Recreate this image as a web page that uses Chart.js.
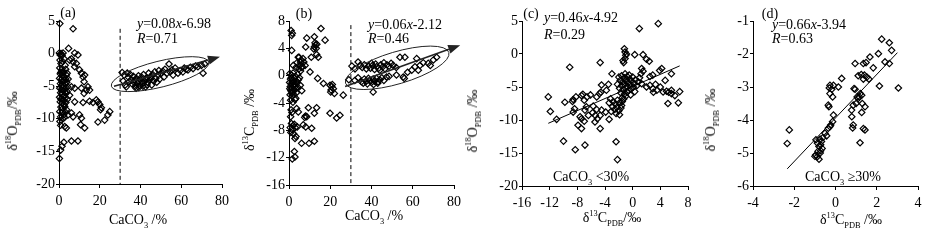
<!DOCTYPE html>
<html>
<head>
<meta charset="utf-8">
<script src="https://cdn.jsdelivr.net/npm/chart.js@4.4.1/dist/chart.umd.min.js"></script>
<style>
  body { margin: 0; width: 932px; height: 241px; position: relative; background: #fff; overflow: hidden;
         font-family: "Liberation Serif", "Times New Roman", serif; color: #000; }
  canvas { position: absolute; top: 0; }
  .t { position: absolute; font-size: 14px; line-height: 1; white-space: nowrap; transform: translate(-50%, -50%); }
  .l { position: absolute; font-size: 14px; line-height: 1; white-space: nowrap; transform: translateY(-50%); }
  .r { transform: translate(-50%, -50%) rotate(-90deg); }
  sub, sup { font-size: 60%; line-height: 0; }
  i { font-style: italic; }
</style>
</head>
<body>
<canvas id="pa" width="240" height="241" style="left:0px"></canvas>
<canvas id="pb" width="240" height="241" style="left:232px"></canvas>
<canvas id="pc" width="234" height="241" style="left:466px"></canvas>
<canvas id="pd" width="232" height="241" style="left:700px"></canvas>

<div class="t" style="left:68px;top:13px">(a)</div>
<div class="l" style="left:137px;top:24px"><i>y</i>=0.08<i>x</i>-6.98</div>
<div class="l" style="left:137px;top:39px"><i>R</i>=0.71</div>
<div class="t" style="left:138px;top:220px">CaCO<sub>3</sub> /%</div>
<div class="t r" style="left:13px;top:121px">δ<sup>18</sup>O<sub>PDB</sub>/‰</div>

<div class="t" style="left:304px;top:14px">(b)</div>
<div class="l" style="left:368px;top:25px"><i>y</i>=0.06<i>x</i>-2.12</div>
<div class="l" style="left:368px;top:39px"><i>R</i>=0.46</div>
<div class="t" style="left:374px;top:216px">CaCO<sub>3</sub> /%</div>
<div class="t r" style="left:250px;top:120px">δ<sup>13</sup>C<sub>PDB</sub> /‰</div>

<div class="t" style="left:531px;top:14px">(c)</div>
<div class="l" style="left:544px;top:18px"><i>y</i>=0.46<i>x</i>-4.92</div>
<div class="l" style="left:544px;top:35px"><i>R</i>=0.29</div>
<div class="l" style="left:553px;top:177px">CaCO<sub>3</sub> &lt;30%</div>
<div class="t" style="left:612px;top:218px">δ<sup>13</sup>C<sub>PDB</sub>/‰</div>
<div class="t r" style="left:473px;top:121px">δ<sup>18</sup>O<sub>PDB</sub> /‰</div>

<div class="t" style="left:770px;top:14px">(d)</div>
<div class="l" style="left:772px;top:25px"><i>y</i>=0.66<i>x</i>-3.94</div>
<div class="l" style="left:772px;top:39px"><i>R</i>=0.63</div>
<div class="l" style="left:805px;top:177px">CaCO<sub>3</sub> ≥30%</div>
<div class="t" style="left:851px;top:220px">δ<sup>13</sup>C<sub>PDB</sub> /‰</div>
<div class="t r" style="left:711px;top:120px">δ<sup>18</sup>O<sub>PDB</sub> /‰</div>

<script>
// (a) CaCO3 (%) vs d18O, samples with CaCO3 < 30%
const aLow = [
  [0.4,4.6],[6.9,3.8],[0.2,0.1],[0.6,-0.2],[1.0,0.0],[1.5,-0.3],[2.0,0.1],[4.7,0.8],[6.1,-0.8],[7.7,0.1],
  [9.3,-0.2],[5.2,-1.0],[6.9,-1.3],[8.5,-1.5],[7.7,-2.0],[10.1,-2.5],[11.0,-3.0],[11.8,-3.6],[12.6,-3.3],[12.3,-4.3],
  [14.2,-5.1],[13.4,-5.6],[15.0,-5.6],[12.3,-6.1],[11.0,-5.3],[7.7,-5.3],[15.0,-7.3],[16.7,-7.5],[18.3,-7.1],[19.1,-7.4],
  [20.0,-7.8],[20.8,-8.3],[20.4,-8.6],[24.9,-8.9],[24.0,-9.4],[22.4,-10.2],[19.1,-10.5],[11.8,-7.5],[7.7,-7.4],[5.2,-6.4],
  [6.1,-5.1],[10.1,-9.4],[11.0,-9.9],[12.6,-11.4],[10.6,-10.9],[6.1,-9.1],[6.9,-9.7],[4.4,-9.4],[3.6,-11.4],[2.8,-11.2],
  [0.8,-11.0],[6.1,-13.4],[9.3,-13.4],[2.4,-13.6],[1.5,-14.2],[0.8,-14.8],[0.2,-16.1],
  [0.5,-1.0],[1.0,-1.5],[1.8,-1.2],[2.5,-0.8],[3.0,-1.8],[0.4,-2.2],[1.3,-2.5],[2.2,-2.8],[3.3,-2.4],[4.0,-3.0],
  [0.6,-3.1],[1.5,-3.4],[2.7,-3.6],[3.6,-3.3],[0.3,-3.8],[1.1,-4.0],[2.0,-4.2],[2.9,-4.1],[3.8,-4.4],[4.5,-3.9],
  [0.7,-4.6],[1.6,-4.8],[2.4,-5.0],[3.2,-4.7],[4.2,-5.1],[0.4,-5.3],[1.2,-5.5],[2.1,-5.7],[3.0,-5.4],[3.9,-5.8],
  [0.8,-6.0],[1.7,-6.2],[2.6,-6.4],[3.5,-6.1],[0.3,-6.7],[1.3,-6.9],[2.2,-7.1],[3.1,-6.8],[4.1,-7.0],[0.6,-7.4],
  [1.5,-7.6],[2.5,-7.8],[3.4,-7.5],[0.9,-8.2],[1.9,-8.4],[2.8,-8.1],[3.7,-8.6],[0.4,-8.9],[1.4,-9.1],[2.3,-9.4],
  [3.2,-9.0],[0.8,-9.7],[1.8,-10.0],[2.7,-9.8],[0.5,-10.4],[1.2,-5.0],[2.0,-3.0],[1.0,-7.0],[2.9,-5.9],[1.6,-4.3],
  [0.9,-2.9],[2.3,-6.6],[3.3,-3.9],[1.9,-8.9]
];
// (a) samples with CaCO3 >= 30%
const aHigh = [
  [31.0,-2.9],[32.0,-3.3],[33.5,-3.0],[31.5,-4.2],[32.5,-4.8],[33.0,-5.1],[34.0,-3.6],[34.5,-4.3],[35.0,-3.2],[35.5,-4.0],
  [36.0,-4.7],[36.5,-3.5],[37.0,-4.1],[37.5,-5.0],[38.0,-3.8],[38.5,-4.5],[39.0,-3.4],[39.5,-4.9],[40.0,-4.0],[40.5,-3.6],
  [41.0,-4.6],[41.5,-3.2],[42.0,-4.2],[42.5,-5.1],[43.0,-3.7],[43.5,-4.4],[44.0,-3.0],[44.5,-4.0],[45.0,-3.5],[45.5,-4.8],
  [46.0,-3.2],[46.5,-4.2],[47.0,-2.8],[47.5,-3.8],[48.0,-4.4],[48.5,-3.3],[49.0,-2.6],[49.5,-3.9],[50.0,-3.1],[51.0,-2.7],
  [51.5,-3.6],[52.0,-2.4],[53.0,-3.0],[54.0,-1.6],[54.5,-2.8],[55.5,-2.5],[56.0,-3.3],[57.0,-2.2],[58.4,-3.0],[59.5,-2.6],
  [60.8,-2.8],[61.5,-2.2],[62.5,-2.4],[63.3,-2.5],[64.5,-2.1],[65.8,-2.3],[67.0,-1.9],[68.2,-2.0],[69.9,-1.8],[70.7,-3.0],
  [71.5,-1.6],[36.8,-4.4],[38.8,-4.2],[40.8,-4.3],[42.8,-3.9],[44.8,-3.7],[37.8,-5.3],[39.2,-5.2],[41.2,-5.0],[43.2,-4.8]
];

// (b) CaCO3 (%) vs d13C, CaCO3 < 30%
const bLow = [
  [1.0,6.6],[1.3,5.9],[1.6,6.2],[15.5,6.9],[8.6,5.5],[12.3,5.7],[17.5,5.2],[12.3,4.2],[12.8,4.5],[13.2,4.0],
  [12.0,3.9],[13.5,4.6],[12.6,4.8],[14.2,2.7],[13.4,3.1],[8.1,4.2],[1.3,3.7],[4.5,2.7],[6.8,2.5],[5.6,2.0],
  [3.9,1.9],[7.8,1.5],[6.2,1.2],[5.0,1.5],[10.8,2.7],[10.2,0.55],[13.9,-0.4],[16.7,-1.15],[19.9,-1.4],[20.7,-1.6],
  [20.4,-2.1],[21.5,-1.9],[22.0,-2.6],[20.2,-2.4],[21.0,-1.3],[26.3,-2.85],[19.9,-5.5],[23.1,-6.2],[24.7,-5.8],[9.4,-4.7],
  [13.4,-4.7],[12.3,-5.5],[8.6,-6.0],[8.0,-5.9],[7.6,-6.1],[6.9,-7.2],[8.1,-7.5],[11.0,-7.7],[6.1,-9.9],[9.7,-9.9],
  [12.3,-9.6],[2.6,-11.1],[2.9,-11.9],[1.6,-12.2],[2.9,-9.2],[3.7,-4.8],[4.5,-5.3],[4.0,-7.5],[3.4,-8.9],
  [0.4,0.3],[1.2,0.1],[2.0,0.4],[3.1,-0.1],[4.2,0.2],[5.1,-0.3],[0.7,-0.5],[1.6,-0.7],[2.5,-0.4],[3.5,-0.8],
  [4.6,-0.6],[0.3,-1.0],[1.0,-1.2],[1.9,-1.0],[2.8,-1.3],[3.8,-1.1],[5.5,-1.4],[0.6,-1.6],[1.4,-1.8],[2.3,-1.5],
  [3.2,-1.9],[4.3,-1.7],[0.9,-2.2],[1.8,-2.4],[2.7,-2.1],[3.6,-2.5],[6.2,-2.2],[0.5,-2.8],[1.5,-3.0],[2.4,-2.8],
  [3.3,-3.3],[0.8,-3.6],[1.9,-3.9],[2.9,-3.5],[1.1,-0.3],[2.2,-0.9],[3.0,-1.6],[1.3,-2.6],[0.4,-1.9],[4.8,1.0],
  [3.4,1.2],[2.1,1.5],[5.6,0.7],[6.5,1.3],[7.2,2.0],[5.8,2.3],[4.9,2.7],[1.0,-5.0],[1.4,-5.4],[0.8,-6.0],
  [1.2,-7.0],[2.0,-7.3],[0.6,-7.6],[1.6,-7.9],[2.6,-7.1],[0.9,-8.3],[2.2,-8.5],[3.0,-7.6]
];
// (b) CaCO3 >= 30%
const bHigh = [
  [30.5,1.4],[32.0,1.0],[33.5,2.0],[34.5,1.5],[35.5,1.2],[36.5,1.6],[37.5,1.0],[38.5,1.4],[39.5,1.1],[40.5,1.5],
  [41.5,0.9],[42.5,1.3],[43.5,1.1],[44.5,1.6],[45.5,1.3],[46.5,1.0],[47.5,1.6],[48.5,1.4],[49.5,1.8],[50.5,1.5],
  [52.0,1.2],[53.8,2.7],[56.2,2.7],[61.1,1.3],[63.5,1.5],[67.5,1.8],[70.0,2.3],[71.6,2.7],[65.1,1.9],[62.7,0.8],
  [59.5,0.8],[61.9,2.5],[68.5,1.5],[57.5,0.5],[40.0,1.8],[42.0,1.7],[44.0,0.8],[46.0,1.9],
  [29.0,-0.6],[31.9,-0.7],[33.5,-0.3],[35.1,-0.9],[36.5,-0.5],[37.5,-0.8],[38.5,-0.4],[39.2,-0.7],[40.0,-1.0],[40.8,-0.5],
  [41.5,-0.8],[42.4,-0.4],[43.2,-0.9],[44.0,-0.6],[45.0,-0.3],[46.0,-0.7],[47.3,-0.2],[48.5,-0.1],[52.1,0.1],[55.4,-0.2],
  [55.9,-0.4],[40.8,-2.4],[38.0,-1.2],[36.0,-1.1],[41.0,-1.3],[43.0,-1.1]
];

// (c) d13C vs d18O, CaCO3 < 30%
const cPoints = [
  [0.96,3.85],[3.7,4.6],[-9.1,-2.0],[-4.7,-1.3],[-12.2,-6.5],[-11.9,-8.7],[-11.0,-9.9],[-9.8,-7.3],[-8.6,-6.9],[-8.4,-8.3],
  [-8.6,-8.8],[-7.4,-6.3],[-7.2,-6.1],[-8.2,-6.5],[-6.9,-8.5],[-6.7,-8.0],[-7.6,-9.5],[-7.4,-9.8],[-7.9,-10.8],[-7.4,-11.3],
  [-7.0,-10.2],[-6.4,-9.3],[-5.8,-8.9],[-5.7,-7.9],[-5.2,-8.4],[-5.4,-9.3],[-5.1,-9.8],[-5.45,-10.3],[-4.7,-9.3],[-5.2,-6.5],
  [-3.8,-5.5],[-3.5,-4.6],[-3.4,-7.4],[-4.5,-8.5],[-3.9,-8.8],[-3.4,-9.9],[-4.7,-11.3],[-10.0,-13.2],[-8.3,-14.5],[-6.9,-13.8],
  [-2.4,-13.3],[-2.2,-16.0],[-3.0,-3.0],[-7.0,-7.0],[-6.6,-6.5],[-6.1,-6.2],[-4.8,-6.0],[-4.6,-5.8],[-8.7,-7.2],[-4.5,-4.7],
  [-2.0,-3.5],[-1.6,-3.3],[-1.2,-3.6],[-0.8,-3.4],[-0.4,-3.8],[0.0,-3.5],[0.4,-3.9],[-1.8,-4.0],[-1.4,-4.2],[-1.0,-4.0],
  [-0.6,-4.3],[-0.2,-4.1],[0.2,-4.5],[-2.2,-4.6],[-1.6,-4.8],[-1.2,-4.6],[-0.8,-4.9],[-0.4,-4.7],[0.1,-5.0],[0.6,-4.8],
  [-1.9,-5.2],[-1.4,-5.4],[-1.0,-5.2],[-0.6,-5.5],[-0.2,-5.3],[0.3,-5.7],[-1.7,-5.9],[-1.2,-6.1],[-0.8,-5.8],[-0.3,-6.2],
  [-1.5,-6.6],[-1.0,-6.4],[-0.5,-3.2],[-1.1,-3.0],[0.8,-4.2],[1.0,-3.6],[1.2,-3.0],[1.5,-2.6],
  [-1.2,0.8],[-1.1,0.3],[-1.0,-0.2],[-1.1,-0.7],[-1.3,-1.3],[-0.9,0.0],[-1.4,-1.0],
  [0.3,-0.1],[1.5,-0.1],[2.0,-0.8],[2.4,-1.1],[1.3,-2.2],[4.2,-2.2],[3.9,-2.5],[5.6,-3.0],[2.5,-3.4],[2.9,-3.2],
  [2.5,-4.75],[2.9,-5.25],[3.5,-5.5],[4.0,-5.0],[4.4,-5.75],[4.9,-5.65],[5.6,-6.0],[6.1,-6.3],[6.8,-5.7],[5.1,-7.5],
  [6.6,-7.4],[3.0,-5.8],[4.7,-4.0],[5.2,-5.8],[1.3,-4.5],[2.0,-5.0],[3.3,-4.6],[5.6,-5.5],
  [-3.2,-6.8],[-2.8,-7.2],[-2.5,-7.6],[-2.2,-7.0],[-1.9,-7.4],[-1.6,-7.8],[-2.9,-8.0],[-2.6,-8.4],[-2.3,-8.1],[-2.0,-8.6],
  [-1.7,-8.2],[-3.1,-8.7],[-2.4,-9.0],[-1.9,-9.2],[-1.5,-7.2],[-1.3,-6.8]
];
const cFit = [[-12.2,-10.5],[6.8,-1.8]];

// (d) d13C vs d18O, CaCO3 >= 30%
const dPoints = [
  [-2.24,-4.3],[-2.34,-4.71],[2.24,-1.55],[2.61,-1.66],[2.72,-1.89],[2.08,-1.99],[1.67,-2.09],[1.83,-2.42],[2.4,-2.24],[2.61,-2.29],
  [0.95,-2.29],[1.35,-2.29],[1.48,-2.26],[1.1,-2.66],[1.25,-2.62],[1.4,-2.64],[1.52,-2.7],[1.62,-2.76],[1.35,-2.76],[0.3,-2.74],
  [2.13,-2.97],[3.05,-3.03],[0.95,-3.07],[0.14,-3.0],[-0.1,-2.95],[-0.18,-3.07],[1.27,-3.25],[1.1,-3.35],[1.2,-3.2],[1.15,-3.3],
  [0.86,-3.55],[0.78,-3.7],[1.27,-3.77],[1.43,-3.6],[1.0,-3.5],[1.3,-3.5],[0.79,-3.9],[0.86,-4.15],[0.83,-4.24],[1.35,-4.26],
  [1.43,-4.3],[1.19,-4.69],[-0.1,-3.85],[-0.27,-4.2],[-0.27,-2.95],[-0.3,-3.03],[-0.27,-3.2],[-0.14,-3.3],[-0.35,-3.55],[-0.32,-3.6],
  [-0.14,-4.05],[-0.23,-4.15],[-0.35,-4.25],[-0.51,-4.4],[-0.43,-4.48],[-0.62,-4.54],[-0.75,-4.58],[-0.95,-4.6],[-0.88,-4.7],[-0.8,-4.8],
  [-0.72,-4.75],[-0.96,-5.06],[-0.88,-5.11],[-0.8,-5.19],[-0.74,-5.0],[-0.65,-4.86],[-0.72,-4.93],[-0.85,-4.95],[-1.0,-5.1],[-0.68,-4.65],
  [0.9,-3.05],[1.05,-3.3]
];
const dFit = [[-2.34,-5.48],[3.0,-1.96]];

// guide lines in (a) and (b)
const aCut = [[30,3.8],[30,-20]];
const bCut = [[30,7.4],[30,-16]];

const toXY = arr => arr.map(p => ({ x: p[0], y: p[1] }));

const SERIF = '"Liberation Serif", "Times New Roman", serif';

// ellipses and trend arrows, placed in data units through the scales
const deco = {
  id: 'deco',
  afterDatasetsDraw(chart, args, opts) {
    const ctx = chart.ctx, sx = chart.scales.x, sy = chart.scales.y;
    const px = p => [sx.getPixelForValue(p[0]), sy.getPixelForValue(p[1])];
    ctx.save();
    ctx.strokeStyle = '#222';
    ctx.fillStyle = '#222';
    if (opts.ellipse) {
      const a = px(opts.ellipse.from), b = px(opts.ellipse.to);
      const cx = (a[0] + b[0]) / 2, cy = (a[1] + b[1]) / 2;
      const r = Math.hypot(b[0] - a[0], b[1] - a[1]) / 2;
      const ang = Math.atan2(b[1] - a[1], b[0] - a[0]);
      ctx.lineWidth = 1;
      ctx.beginPath();
      ctx.ellipse(cx, cy, r, opts.ellipse.minor, ang, 0, Math.PI * 2);
      ctx.stroke();
    }
    if (opts.arrow) {
      const a = px(opts.arrow.from), b = px(opts.arrow.to);
      const ang = Math.atan2(b[1] - a[1], b[0] - a[0]);
      const len = 12, half = 4.5;
      const bx = b[0] - len * Math.cos(ang), by = b[1] - len * Math.sin(ang);
      ctx.lineWidth = 1.6;
      ctx.beginPath();
      ctx.moveTo(a[0], a[1]);
      ctx.lineTo(bx, by);
      ctx.stroke();
      ctx.beginPath();
      ctx.moveTo(b[0], b[1]);
      ctx.lineTo(bx + half * Math.sin(ang), by - half * Math.cos(ang));
      ctx.lineTo(bx - half * Math.sin(ang), by + half * Math.cos(ang));
      ctx.closePath();
      ctx.fill();
    }
    ctx.restore();
  }
};

function axis(range, isX, size) {
  return {
    type: 'linear',
    min: range[0],
    max: range[1],
    ticks: {
      stepSize: range[2],
      color: '#000',
      font: { family: SERIF, size: 14 },
      padding: isX ? 5 : 1,
      maxRotation: 0,
      autoSkip: false
    },
    grid: { drawOnChartArea: false, drawTicks: true, tickLength: isX ? 4 : 3, color: '#000' },
    border: { color: '#000', width: 1 },
    afterFit: s => { if (isX) s.height = size; else s.width = size; }
  };
}

function scatterSet(points) {
  return {
    data: toXY(points),
    pointStyle: 'rectRot',
    pointRadius: 3.2,
    borderWidth: 1.2,
    borderColor: '#000',
    backgroundColor: 'rgba(0,0,0,0)',
    clip: false
  };
}

function lineSet(points, dash) {
  return {
    data: toXY(points),
    showLine: true,
    pointRadius: 0,
    borderWidth: 1,
    borderColor: '#000',
    borderDash: dash || [],
    clip: false
  };
}

function panel(id, sets, xr, yr, yW, xH, padR, decoOpts) {
  return new Chart(document.getElementById(id), {
    type: 'scatter',
    data: { datasets: sets },
    options: {
      responsive: false,
      animation: false,
      layout: { padding: { top: 21, right: padR, left: 0, bottom: 0 } },
      plugins: { legend: { display: false }, tooltip: { enabled: false }, deco: decoOpts },
      scales: { x: axis(xr, true, xH), y: axis(yr, false, yW) }
    },
    plugins: [deco]
  });
}

function drawAll() {
  panel('pa', [lineSet(aCut, [4, 3]), scatterSet(aLow), scatterSet(aHigh)],
    [0, 80, 20], [-20, 5, 5], 59, 57, 18,
    { ellipse: { from: [25.7, -5.0], to: [73.5, -1.3], minor: 13 }, arrow: { from: [27, -5.0], to: [79, -0.5] } });

  panel('pb', [lineSet(bCut, [4, 3]), scatterSet(bLow), scatterSet(bHigh)],
    [0, 80, 20], [-16, 8, 4], 57, 56, 18,
    { ellipse: { from: [27.4, -1.1], to: [77.5, 3.4], minor: 16 }, arrow: { from: [27.2, -1.6], to: [83, 4.45] } });

  panel('pc', [scatterSet(cPoints), lineSet(cFit)],
    [-16, 8, 4], [-20, 5, 5], 56, 55, 12, {});

  panel('pd', [scatterSet(dPoints), lineSet(dFit)],
    [-4, 4, 2], [-6, -1, 1], 53, 55, 14, {});
}

document.fonts.load('14px "Liberation Serif"').then(drawAll, drawAll);
</script>
</body>
</html>
